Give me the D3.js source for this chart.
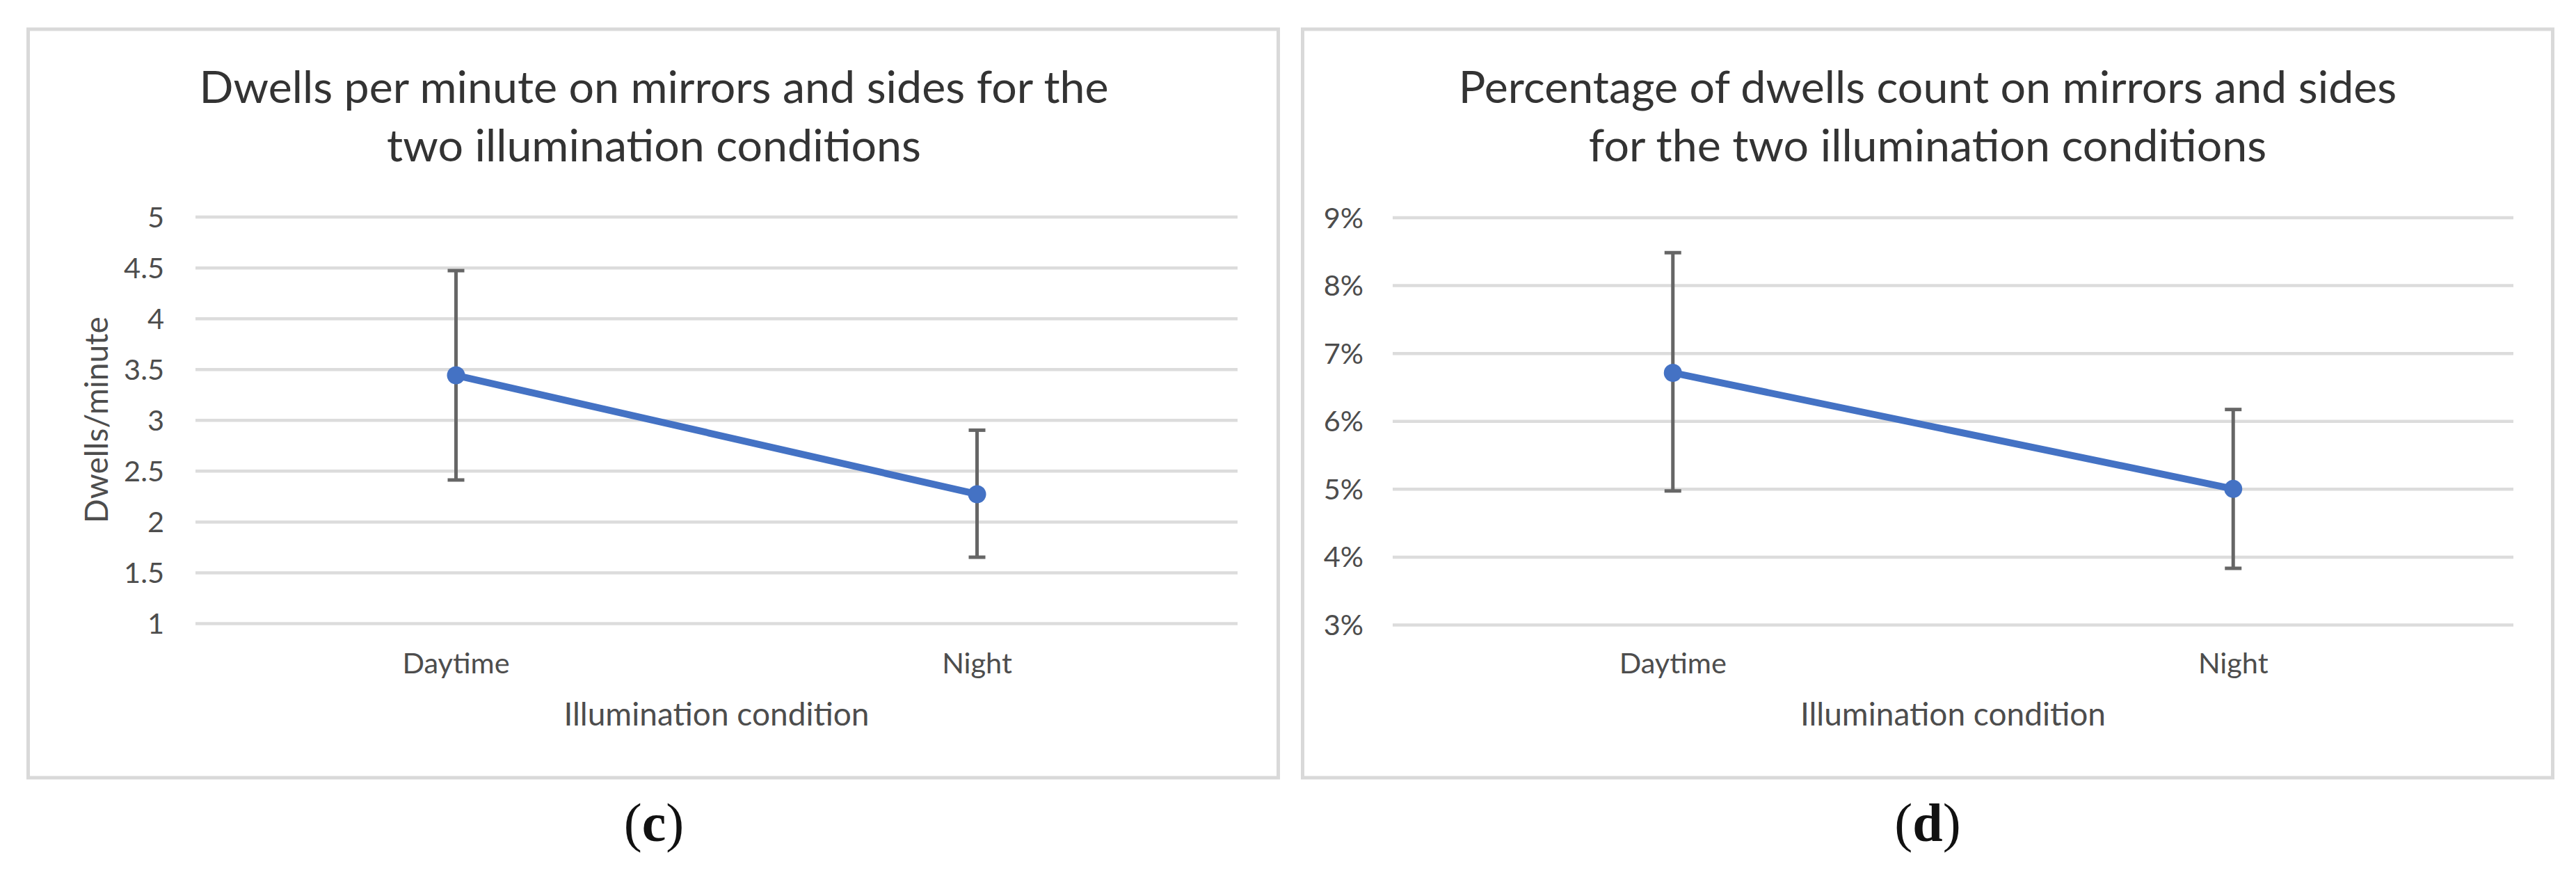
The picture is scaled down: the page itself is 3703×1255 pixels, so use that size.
<!DOCTYPE html>
<html>
<head>
<meta charset="utf-8">
<script src="https://cdn.jsdelivr.net/npm/d3@7"></script>
<style>
  html, body { margin: 0; padding: 0; background: #ffffff; }
  svg { display: block; }
</style>
</head>
<body>
<script>
// ---------- data ----------
const categories = ["Daytime", "Night"];

const dwellsTitle = ["Dwells per minute on mirrors and sides for the", "two illumination conditions"];
const dwellsMean = [3.44, 2.27];
const dwellsLow  = [2.41, 1.65];
const dwellsHigh = [4.47, 2.90];
const dwellsTicks = [1, 1.5, 2, 2.5, 3, 3.5, 4, 4.5, 5];
const dwellsYLabel = "Dwells/minute";

const pctTitle = ["Percentage of dwells count on mirrors and sides", "for the two illumination conditions"];
const pctMean = [0.0671, 0.0500];
const pctLow  = [0.0497, 0.0383];
const pctHigh = [0.0848, 0.0617];
const pctTicks = [0.03, 0.04, 0.05, 0.06, 0.07, 0.08, 0.09];

const xAxisLabel = "Illumination condition";
const captions = ["c", "d"];

// ---------- drawing ----------
const W = 3703, H = 1255;
const svg = d3.select("body").append("svg").attr("width", W).attr("height", H);
svg.append("rect").attr("width", W).attr("height", H).attr("fill", "#fff");

const FONT = "Lato, 'Open Sans', sans-serif";
const BLUE = "#4472C4";

function panel(cfg) {
  const g = svg.append("g");
  // chart border
  g.append("rect")
    .attr("x", cfg.box[0]).attr("y", cfg.box[1])
    .attr("width", cfg.box[2]).attr("height", cfg.box[3])
    .attr("fill", "#fff").attr("stroke", "#d9d9d9").attr("stroke-width", 5);

  const x = d3.scaleBand().domain(categories).range([cfg.px0, cfg.px1]);
  const y = d3.scaleLinear().domain(cfg.domain).range([cfg.py0, cfg.py1]);
  const cx = d => x(d) + x.bandwidth() / 2;

  // title
  const t = g.append("text").attr("text-anchor", "middle")
    .attr("font-family", FONT).attr("font-size", 64.5).attr("fill", "#333333");
  cfg.title.forEach((line, i) => {
    t.append("tspan").attr("x", cfg.titleX).attr("y", 148 + i * 84).text(line);
  });

  // y axis with gridlines
  const ya = g.append("g").attr("transform", `translate(${cfg.px0},0)`)
    .call(d3.axisLeft(y).tickValues(cfg.ticks).tickFormat(cfg.fmt)
      .tickSizeInner(-(cfg.px1 - cfg.px0)).tickSizeOuter(0).tickPadding(cfg.tickPad));
  ya.select(".domain").remove();
  ya.selectAll(".tick line").attr("stroke", "#dcdcdc").attr("stroke-width", 4.5);
  ya.selectAll(".tick text").attr("font-family", FONT).attr("font-size", 41.5)
    .attr("fill", "#4d4d4d").attr("dy", "0.35em");

  // x axis
  const xa = g.append("g").attr("transform", `translate(0,${cfg.py0})`)
    .call(d3.axisBottom(x).tickSize(0).tickPadding(0));
  xa.select(".domain").remove();
  xa.selectAll(".tick text").attr("font-family", FONT).attr("font-size", 41.5)
    .attr("fill", "#4d4d4d").attr("dy", null).attr("y", 968 - cfg.py0);

  // x axis title
  g.append("text").attr("x", (cfg.px0 + cfg.px1) / 2).attr("y", 1043)
    .attr("text-anchor", "middle").attr("font-family", FONT).attr("font-size", 46)
    .attr("fill", "#4d4d4d").text(xAxisLabel);

  // y axis title
  if (cfg.yLabel) {
    g.append("text")
      .attr("transform", `translate(${cfg.yLabelX},${(cfg.py0 + cfg.py1) / 2}) rotate(-90)`)
      .attr("text-anchor", "middle").attr("dominant-baseline", "central")
      .attr("font-family", FONT).attr("font-size", 46).attr("fill", "#4d4d4d")
      .text(cfg.yLabel);
  }

  // error bars
  const eb = g.append("g").attr("stroke", "#666666").attr("stroke-width", 5);
  categories.forEach((c, i) => {
    eb.append("line").attr("x1", cx(c)).attr("x2", cx(c))
      .attr("y1", y(cfg.high[i])).attr("y2", y(cfg.low[i]));
    [cfg.high[i], cfg.low[i]].forEach(v => {
      eb.append("line").attr("x1", cx(c) - 12).attr("x2", cx(c) + 12)
        .attr("y1", y(v)).attr("y2", y(v));
    });
  });

  // line + markers
  const line = d3.line().x((d, i) => cx(categories[i])).y(d => y(d));
  g.append("path").datum(cfg.mean).attr("d", line)
    .attr("fill", "none").attr("stroke", BLUE).attr("stroke-width", 10)
    .attr("stroke-linecap", "round");
  g.selectAll(null).data(cfg.mean).enter().append("circle")
    .attr("cx", (d, i) => cx(categories[i])).attr("cy", d => y(d))
    .attr("r", 13).attr("fill", BLUE);

  // caption
  const cap = g.append("text").attr("x", cfg.titleX).attr("y", 1209)
    .attr("text-anchor", "middle").attr("font-family", "'Liberation Serif', 'DejaVu Serif', serif")
    .attr("font-size", 78).attr("fill", "#111");
  cap.append("tspan").text("(");
  cap.append("tspan").attr("font-weight", "bold").text(cfg.caption);
  cap.append("tspan").text(")");
}

panel({
  box: [40.5, 42, 1797, 1076],
  px0: 281, px1: 1779, py0: 896, py1: 311.6,
  domain: [1, 5], ticks: dwellsTicks, fmt: d3.format(""), tickPad: 45,
  title: dwellsTitle, titleX: 940,
  mean: dwellsMean, low: dwellsLow, high: dwellsHigh,
  yLabel: dwellsYLabel, yLabelX: 137, caption: captions[0]
});

panel({
  box: [1872.5, 42, 1797, 1076],
  px0: 2002, px1: 3613, py0: 898, py1: 312.5,
  domain: [0.03, 0.09], ticks: pctTicks, fmt: d3.format(".0%"), tickPad: 42,
  title: pctTitle, titleX: 2771,
  mean: pctMean, low: pctLow, high: pctHigh,
  yLabel: null, caption: captions[1]
});
</script>
</body>
</html>
